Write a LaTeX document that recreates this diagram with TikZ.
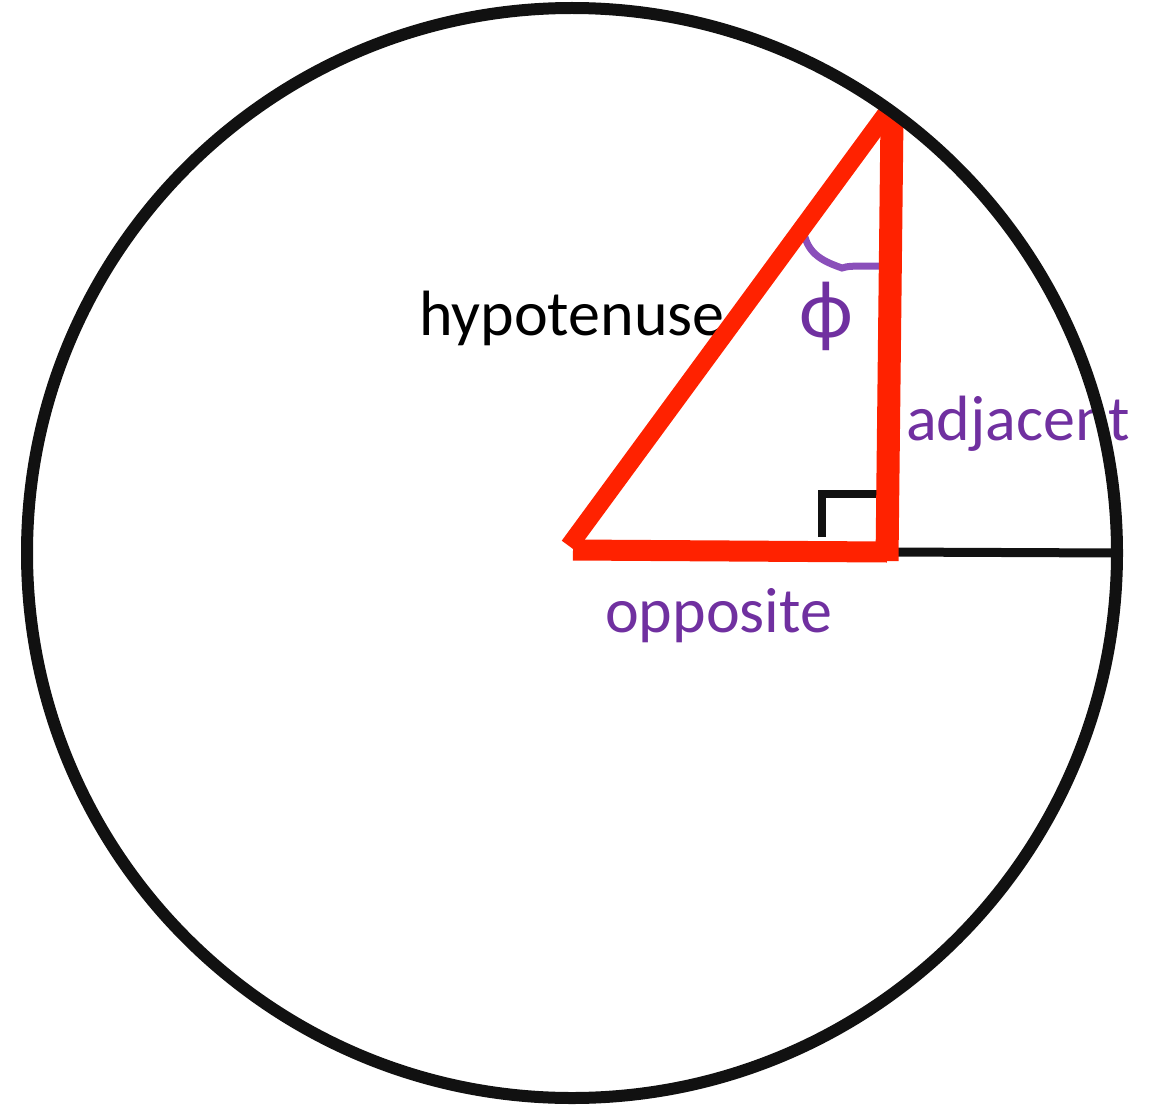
\documentclass[tikz,border=0pt]{standalone}
\usepackage{fontspec}
\setmainfont{Carlito}
\definecolor{tri}{HTML}{FF2200}
\definecolor{lbl}{HTML}{7030A0}
\definecolor{arcc}{HTML}{8A4FBA}
\definecolor{ink}{HTML}{111111}
\begin{document}
\begin{tikzpicture}[x=1pt,y=-1pt,
  side/.style={draw=tri,line cap=butt},
  blk/.style={draw=ink,line width=8pt},
  lab/.style={inner sep=0pt,anchor=base west,font=\fontsize{64}{75}\selectfont}]
\useasboundingbox (0,0) rectangle (1151,1105);
\coordinate (H1) at (569,546);
\coordinate (H2) at (886,114);
\coordinate (V1) at (892,117);
\coordinate (V2) at (887,561);
\coordinate (B1) at (573,550);
\coordinate (B2) at (887,552);
\coordinate (E) at (1118,553);
\node[lab,text=black] (hyp) at (419,335) {hypotenuse};
\node[lab,text=lbl] (adj) at (906,440) {adjacent};
\node[lab,text=lbl] (opp) at (605,632) {opposite};
\node[inner sep=0pt,text=lbl,font=\fontsize{82}{86}\selectfont] (phi) at (826,316) {\char"03D5};
% right angle mark
\draw[draw=ink,line width=8pt] (822,537) -- (822,494) -- (879,494);
% angle arc
\draw[draw=arcc,line width=7pt,line cap=round] (804,233) .. controls (808,255) and (825,262) .. (842,268) .. controls (848,266) and (852,266) .. (880,266);
% baseline from vertex to circle
\draw[blk,line width=9pt] (B2) -- (E);
% triangle sides
\draw[side,line width=18pt] (H1) -- (H2);
\draw[side,line width=23pt] (V1) -- (V2);
\draw[side,line width=21pt] (B1) -- (B2);
\draw[draw=ink,line width=12pt] (572,553) circle (545);
\end{tikzpicture}
\end{document}
